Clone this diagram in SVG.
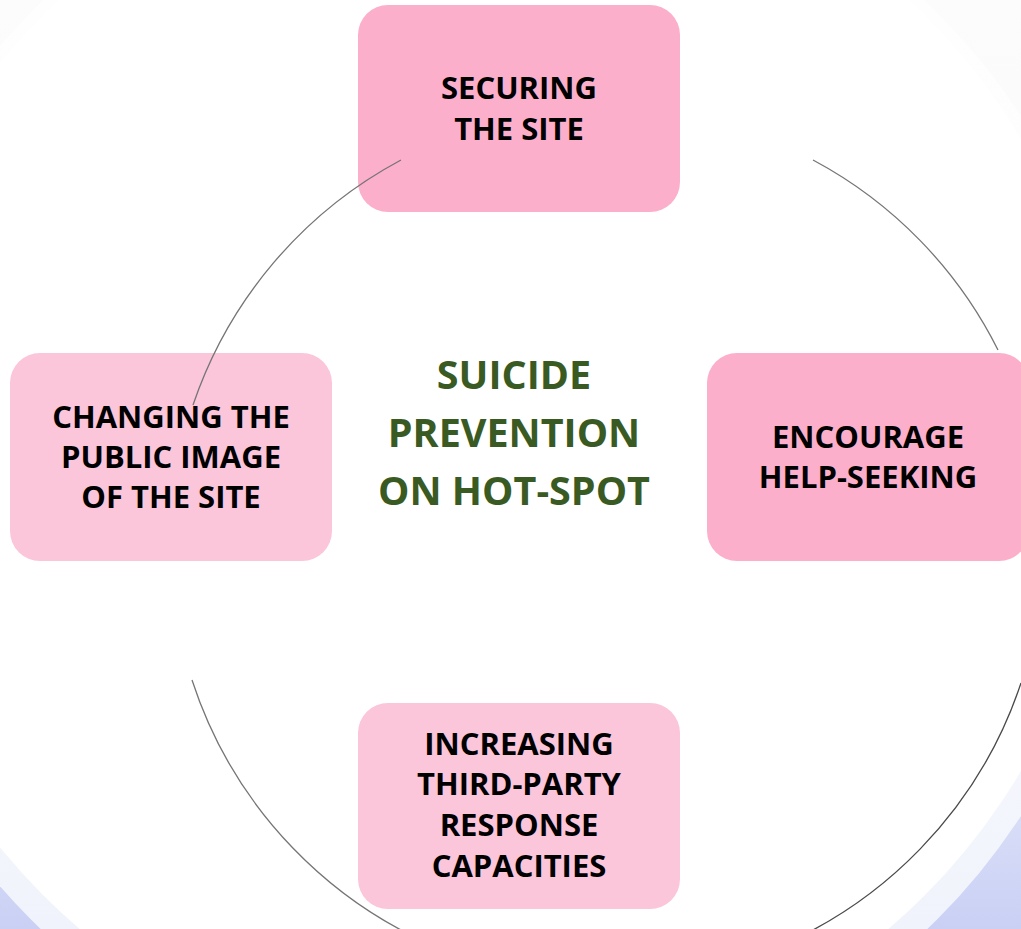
<svg xmlns="http://www.w3.org/2000/svg" width="1021" height="929" viewBox="0 0 1021 929">
  <defs>
    <linearGradient id="gDark" gradientUnits="userSpaceOnUse" x1="0" y1="0" x2="0" y2="929">
      <stop offset="0" stop-color="#FCFCFC"/>
      <stop offset="0.55" stop-color="#F6F7FC"/>
      <stop offset="0.85" stop-color="#DCE0F8"/>
      <stop offset="1" stop-color="#C9D0F4"/>
    </linearGradient>
    <linearGradient id="gLight" gradientUnits="userSpaceOnUse" x1="0" y1="0" x2="0" y2="929">
      <stop offset="0" stop-color="#FEFEFE"/>
      <stop offset="0.6" stop-color="#FAFBFE"/>
      <stop offset="1" stop-color="#F1F3FC"/>
    </linearGradient>
    <style>
      .box-dark { fill: #FCAFCA; }
      .box-light { fill: #FBC5DA; }
      .lbl { font-family: "Open Sans", "Liberation Sans", sans-serif; font-weight: bold; font-size: 31px; fill: #000000; text-anchor: middle; }
      .title { font-family: "Open Sans", "Liberation Sans", sans-serif; font-weight: bold; font-size: 39.5px; fill: #3A5A23; text-anchor: middle; }
      .arc { fill: none; stroke: #757575; stroke-width: 1.3; }
      .arc-dark { fill: none; stroke: #4A4A4A; stroke-width: 1.3; }
    </style>
  </defs>

  <g id="background">
    <rect x="0" y="0" width="1021" height="929" fill="url(#gDark)"/>
    <circle cx="484" cy="466" r="641" fill="url(#gLight)"/>
    <circle cx="484" cy="455" r="623" fill="#FFFFFF"/>
  </g>

  <g id="node-center">
    <text class="title" x="514" y="389">SUICIDE</text>
    <text class="title" x="514" y="447">PREVENTION</text>
    <text class="title" x="514" y="505">ON HOT-SPOT</text>
  </g>

  <g id="node-securing">
    <rect class="box-dark" x="358" y="5" width="322" height="207" rx="30" ry="30"/>
    <text class="lbl" x="519" y="99">SECURING</text>
    <text class="lbl" x="519" y="140">THE SITE</text>
  </g>

  <g id="node-encourage">
    <rect class="box-dark" x="707" y="353" width="322" height="208" rx="30" ry="30"/>
    <text class="lbl" x="868" y="448">ENCOURAGE</text>
    <text class="lbl" x="868" y="488">HELP-SEEKING</text>
  </g>

  <g id="node-increasing">
    <rect class="box-light" x="358" y="703" width="322" height="206" rx="30" ry="30"/>
    <text class="lbl" x="519" y="755">INCREASING</text>
    <text class="lbl" x="519" y="795">THIRD-PARTY</text>
    <text class="lbl" x="519" y="836">RESPONSE</text>
    <text class="lbl" x="519" y="877">CAPACITIES</text>
  </g>

  <g id="node-changing">
    <rect class="box-light" x="10" y="353" width="322" height="208" rx="30" ry="30"/>
    <text class="lbl" x="171" y="428">CHANGING THE</text>
    <text class="lbl" x="171" y="468">PUBLIC IMAGE</text>
    <text class="lbl" x="171" y="508">OF THE SITE</text>
  </g>

  <g id="connectors">
    <path class="arc" d="M 813 160 A 437 437 0 0 1 998 350"/>
    <path class="arc-dark" d="M 1021 683 A 437 437 0 0 1 757 955"/>
    <path class="arc" d="M 457 955 A 437 437 0 0 1 192 680"/>
    <path class="arc" d="M 193 405 A 437 437 0 0 1 401 160"/>
  </g>
</svg>
